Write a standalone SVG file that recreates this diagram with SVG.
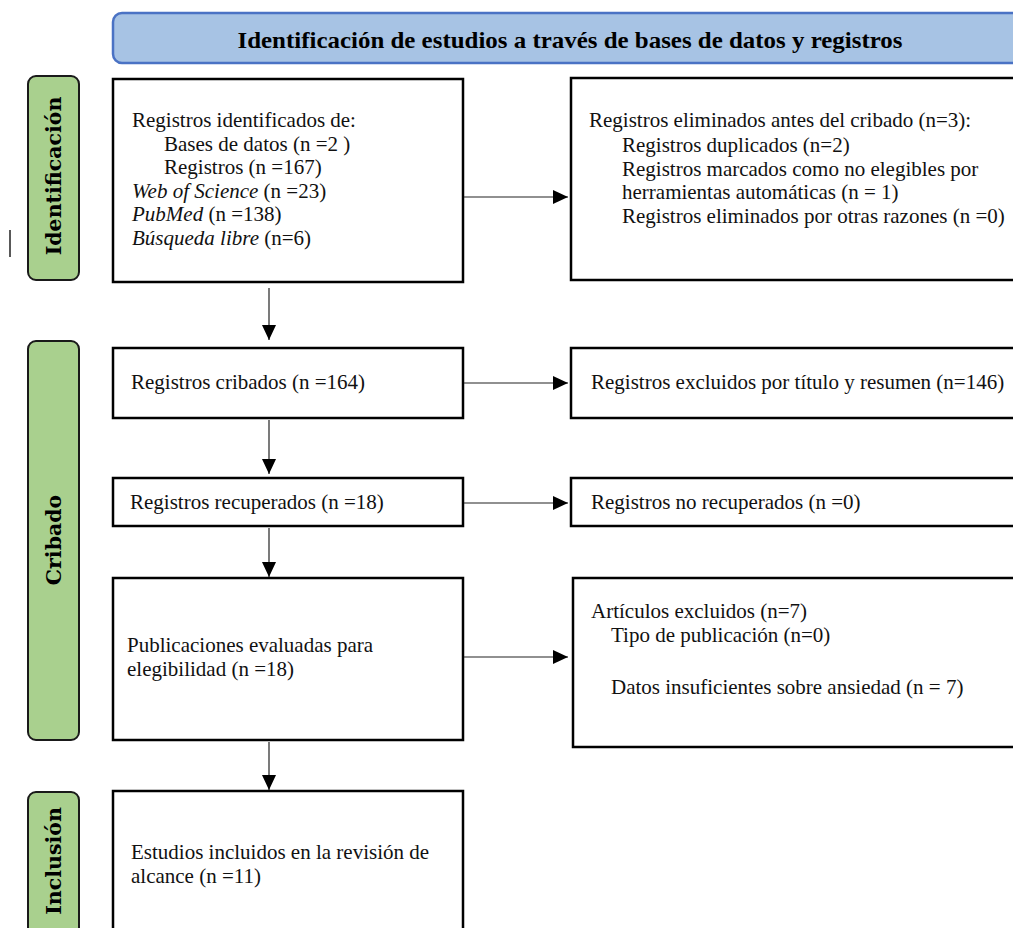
<svg xmlns="http://www.w3.org/2000/svg" width="1013" height="928" viewBox="0 0 1013 928">
<style>
.box{fill:#fff;stroke:#000;stroke-width:2.5}
.phase{fill:#A9D08E;stroke:#1a1a1a;stroke-width:2}
.ph{font-family:"DejaVu Serif","Liberation Serif",serif;font-weight:bold;font-size:20.5px;fill:#000}
.t{font-family:"Liberation Serif","Times New Roman",serif;font-size:21px;fill:#111}
.hd{font-family:"Liberation Serif","Times New Roman",serif;font-weight:bold;font-size:24px;fill:#000}
.c{stroke:#222;stroke-width:1.2;fill:none}
</style>
<defs>
<marker id="ah" markerUnits="userSpaceOnUse" markerWidth="16" markerHeight="14" viewBox="0 0 16 14" refX="15" refY="7" orient="auto">
<path d="M0,0 L15,7 L0,14 Z" fill="#000"/>
</marker>
</defs>

<g id="header">
<rect x="113" y="13" width="920" height="50" rx="9" fill="#A7C3E4" stroke="#4A72C4" stroke-width="2.5"/>
<text class="hd" x="570" y="48" text-anchor="middle" textLength="665" lengthAdjust="spacingAndGlyphs">Identificación de estudios a través de bases de datos y registros</text>
</g>

<g id="phase-identificacion">
<rect class="phase" x="28" y="76" width="51" height="204" rx="8"/>
<text class="ph" transform="translate(61,176) rotate(-90)" text-anchor="middle">Identificación</text>
</g>
<g id="phase-cribado">
<rect class="phase" x="28" y="341" width="51" height="399" rx="8"/>
<text class="ph" transform="translate(61,540) rotate(-90)" text-anchor="middle">Cribado</text>
</g>
<g id="phase-inclusion">
<rect class="phase" x="28" y="792" width="51" height="150" rx="8"/>
<text class="ph" transform="translate(61,861) rotate(-90)" text-anchor="middle">Inclusión</text>
</g>

<g id="stray-mark">
<line x1="10" y1="230" x2="10" y2="257" stroke="#222" stroke-width="1.5"/>
</g>

<g id="node-identificados">
<rect class="box" x="113" y="79" width="350" height="203"/>
<text class="t" x="132" y="127">Registros identificados de:</text>
<text class="t" x="164" y="150.5">Bases de datos (n =2 )</text>
<text class="t" x="164" y="174">Registros (n =167)</text>
<text class="t" x="132" y="197.5"><tspan font-style="italic">Web of Science</tspan> (n =23)</text>
<text class="t" x="132" y="221"><tspan font-style="italic">PubMed</tspan> (n =138)</text>
<text class="t" x="132" y="244.5"><tspan font-style="italic">Búsqueda libre</tspan> (n=6)</text>
</g>

<g id="node-eliminados">
<rect class="box" x="571" y="78" width="460" height="202"/>
<text class="t" x="589" y="127">Registros eliminados antes del cribado (n=3):</text>
<text class="t" x="622" y="151.5">Registros duplicados (n=2)</text>
<text class="t" x="622" y="175.5">Registros marcados como no elegibles por</text>
<text class="t" x="622" y="199">herramientas automáticas (n = 1)</text>
<text class="t" x="622" y="223">Registros eliminados por otras razones (n =0)</text>
</g>

<g id="node-cribados">
<rect class="box" x="113" y="348" width="350" height="70"/>
<text class="t" x="131" y="389">Registros cribados (n =164)</text>
</g>

<g id="node-excluidos-titulo">
<rect class="box" x="571" y="348" width="460" height="70"/>
<text class="t" x="591" y="389">Registros excluidos por título y resumen (n=146)</text>
</g>

<g id="node-recuperados">
<rect class="box" x="113" y="478" width="350" height="48"/>
<text class="t" x="130" y="509">Registros recuperados (n =18)</text>
</g>

<g id="node-no-recuperados">
<rect class="box" x="571" y="478" width="460" height="48"/>
<text class="t" x="591" y="509">Registros no recuperados (n =0)</text>
</g>

<g id="node-evaluadas">
<rect class="box" x="113" y="578" width="350" height="162"/>
<text class="t" x="127" y="652">Publicaciones evaluadas para</text>
<text class="t" x="127" y="676">elegibilidad (n =18)</text>
</g>

<g id="node-articulos-excluidos">
<rect class="box" x="573" y="578" width="458" height="169"/>
<text class="t" x="591" y="618">Artículos excluidos (n=7)</text>
<text class="t" x="611" y="642">Tipo de publicación (n=0)</text>
<text class="t" x="611" y="694">Datos insuficientes sobre ansiedad (n = 7)</text>
</g>

<g id="node-incluidos">
<rect class="box" x="113" y="791" width="350" height="150"/>
<text class="t" x="131" y="859">Estudios incluidos en la revisión de</text>
<text class="t" x="131" y="883">alcance (n =11)</text>
</g>

<g id="connectors">
<line class="c" x1="464" y1="197" x2="568" y2="197" marker-end="url(#ah)"/>
<line class="c" x1="269" y1="288" x2="269" y2="340" marker-end="url(#ah)"/>
<line class="c" x1="464" y1="383" x2="568" y2="383" marker-end="url(#ah)"/>
<line class="c" x1="269" y1="420" x2="269" y2="474" marker-end="url(#ah)"/>
<line class="c" x1="464" y1="503" x2="568" y2="503" marker-end="url(#ah)"/>
<line class="c" x1="269" y1="528" x2="269" y2="577" marker-end="url(#ah)"/>
<line class="c" x1="464" y1="657" x2="568" y2="657" marker-end="url(#ah)"/>
<line class="c" x1="269" y1="742" x2="269" y2="790" marker-end="url(#ah)"/>
</g>
</svg>
